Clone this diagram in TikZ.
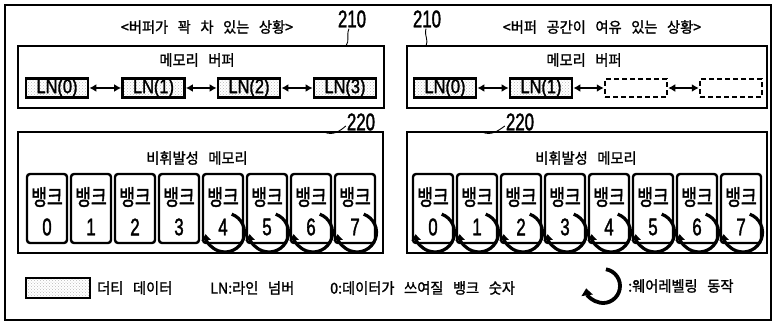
\documentclass[tikz,border=0pt]{standalone}
\usepackage{fontspec}
\setmainfont{Noto Sans CJK KR}
\newfontfamily\krfam[FakeStretch=0.95,WordSpace=3,FakeBold=1.4]{Noto Sans CJK KR}
\newfontfamily\bankfam[FakeStretch=0.78,FakeBold=1.6]{Noto Sans CJK KR}
\newfontfamily\numfam[FakeStretch=0.7,FakeBold=1.5]{Liberation Sans}
\newfontfamily\lnfam[FakeStretch=0.82,FakeBold=1.5]{Liberation Sans}
\newcommand\krfont{\krfam\fontsize{15}{15}\selectfont}
\newcommand\bankfont{\bankfam\fontsize{22}{22}\selectfont}
\newcommand\numfont{\numfam\fontsize{24}{24}\selectfont}
\newcommand\lnfont{\lnfam\fontsize{20}{20}\selectfont}
\usetikzlibrary{arrows.meta,patterns}
\begin{document}
\begin{tikzpicture}[x=1pt,y=1pt,
 frame/.style={draw, line width=1.8pt},
 bufbox/.style={draw, line width=2.8pt, inner sep=0pt},
 dirty/.style={draw, line width=2.8pt, inner sep=0pt, minimum width=62pt, minimum height=18pt, pattern=crosshatch dots, pattern color=gray!55, font=\lnfont},
 emptyslot/.style={draw, line width=2.5pt, dash pattern=on 5pt off 3pt, inner sep=0pt, minimum width=62pt, minimum height=18pt},
 link/.style={line width=2.5pt, {Latex[length=7pt,width=8pt]}-{Latex[length=7pt,width=8pt]}},
 bank/.style={draw, line width=2.4pt, rounded corners=3pt, minimum width=40pt, minimum height=69pt, inner sep=0pt},
 banklbl/.style={font=\bankfont, inner sep=0pt},
 digit/.style={font=\numfont, inner sep=0pt},
 wl/.style={line width=3.2pt, -{Triangle[length=6pt,width=9pt]}},
 krtext/.style={font=\krfont, inner sep=0pt},
 leader/.style={line width=0.9pt}
]
\useasboundingbox (0,0) rectangle (775,324);
\node[frame, minimum width=766pt, minimum height=315pt, inner sep=0pt] (outer) at (388,161.5) {};

% titles
\node[krtext] (tl) at (207,297) {<버퍼가 꽉 차 있는 상황>};
\node[krtext] (tr) at (602,297) {<버퍼 공간이 여유 있는 상황>};

% buffer boxes
\node[bufbox, minimum width=366pt, minimum height=62pt] (bufL) at (201,247) {};
\node[bufbox, minimum width=360pt, minimum height=62pt] (bufR) at (587,247) {};
\node[krtext] (mbL) at (197,264) {메모리 버퍼};
\node[krtext] (mbR) at (584,264) {메모리 버퍼};

% 210 labels
\node[digit] (n210L) at (352,305) {210};
\node[digit] (n210R) at (427,305) {210};
\coordinate (p210L) at (346,278);
\coordinate (p210R) at (426,278);
\draw[leader] (n210L.south) ++(-3,-1) .. controls (346,288) and (350,284) .. (p210L);
\draw[leader] (n210R.south) ++(-1,-1) .. controls (424,288) and (429,284) .. (p210R);

% LN boxes left
\node[dirty] (la0) at (57,236) {LN(0)};
\node[dirty] (la1) at (153.5,236) {LN(1)};
\node[dirty] (la2) at (249,236) {LN(2)};
\node[dirty] (la3) at (345,236) {LN(3)};
\draw[link] (la0) -- (la1);
\draw[link] (la1) -- (la2);
\draw[link] (la2) -- (la3);

% LN boxes right
\node[dirty] (ra0) at (445,236) {LN(0)};
\node[dirty] (ra1) at (541,236) {LN(1)};
\node[emptyslot] (ra2) at (636,236) {};
\node[emptyslot] (ra3) at (731,236) {};
\draw[link] (ra0) -- (ra1);
\draw[link] (ra1) -- (ra2);
\draw[link] (ra2) -- (ra3);

% nonvolatile boxes
\node[bufbox, minimum width=365pt, minimum height=121pt] (nvL) at (200.5,131.5) {};
\node[bufbox, minimum width=360pt, minimum height=121pt] (nvR) at (587,131.5) {};
\node[krtext] (nvtL) at (197,166) {비휘발성 메모리};
\node[krtext] (nvtR) at (586,166) {비휘발성 메모리};

% 220 labels
\node[digit] (n220L) at (361,202) {220};
\node[digit] (n220R) at (520,202) {220};
\coordinate (p220L) at (324,192);
\coordinate (p220R) at (482,192);
\draw[leader] (n220L.west) ++(-1,-4) .. controls (340,193) and (333,188) .. (p220L);
\draw[leader] (n220R.west) ++(-1,-4) .. controls (498,193) and (491,188) .. (p220R);

% banks
\foreach \i in {0,...,7} {
  \pgfmathsetmacro\cx{47+44*\i}
  \pgfmathsetmacro\dx{433+44*\i}
  \node[bank] (lb\i) at (\cx,115.5) {};
  \node[banklbl] (lbl\i) at (\cx,127) {뱅크};
  \node[digit] (lbd\i) at (\cx,97) {\i};
  \node[bank] (rb\i) at (\dx,115.5) {};
  \node[banklbl] (rbl\i) at (\dx,127) {뱅크};
  \node[digit] (rbd\i) at (\dx,97) {\i};
}
\foreach \i in {4,...,7}
  \draw[wl] ([shift={(2,-24)}]lb\i.center) ++(70:19.5) arc[start angle=70, end angle=-175, radius=19.5];
\foreach \i in {0,...,7}
  \draw[wl] ([shift={(2,-24)}]rb\i.center) ++(70:19.5) arc[start angle=70, end angle=-175, radius=19.5];

% legend
\node[dirty, minimum width=64pt, minimum height=20pt] (lgbox) at (58,36) {};
\node[krtext, anchor=west] (lg1) at (97,36) {더티 데이터};
\node[krtext, anchor=west] (lg2) at (210,36) {LN:라인 넘버};
\node[krtext, anchor=west] (lg3) at (330,36) {0:데이터가 쓰여질 뱅크 숫자};
\coordinate (lgc) at (603,38);
\draw[line width=3.8pt, -{Triangle[length=7pt,width=11pt]}] (lgc) ++(80:17) arc[start angle=80, end angle=-172, radius=17];
\node[krtext, anchor=west] (lg4) at (628,38) {:웨어레벨링 동작};
\end{tikzpicture}
\end{document}
